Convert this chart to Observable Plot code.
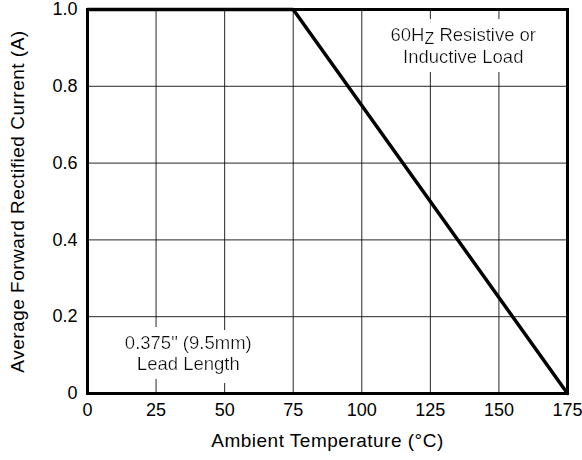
<!DOCTYPE html>
<html>
<head>
<meta charset="utf-8">
<script src="https://cdn.jsdelivr.net/npm/d3@7"></script>
<script src="https://cdn.jsdelivr.net/npm/@observablehq/plot@0.6"></script>
<style>
  html, body { margin: 0; padding: 0; background: #fff; }
  svg { display: block; }
</style>
</head>
<body>
<div id="chart"></div>
<script>
// Derating curve: ambient temperature (°C) vs average forward rectified current (A)
const temperature = [0, 75, 175];
const current = [1.0, 1.0, 0];

const xTicks = [0, 25, 50, 75, 100, 125, 150, 175];
const yTicks = [0, 0.2, 0.4, 0.6, 0.8, 1.0];
const yTickLabels = ["0", "0.2", "0.4", "0.6", "0.8", "1.0"];

const noteTexts = ["60Hz Resistive or\nInductive Load", "0.375\" (9.5mm)\nLead Length"];
const noteX = [137, 36.75];
const noteY = [0.907, 0.107];

const curve = temperature.map((t, i) => ({t, a: current[i]}));
const notes = noteTexts.map((text, i) => ({text, x: noteX[i], y: noteY[i]}));

const chart = Plot.plot({
  width: 582,
  height: 460,
  marginLeft: 87,
  marginRight: 15,
  marginTop: 9,
  marginBottom: 67,
  style: {fontFamily: "'Liberation Sans', Arial, sans-serif", fontSize: "18px", color: "#000", background: "#fff"},
  x: {domain: [0, 175]},
  y: {domain: [0, 1]},
  marks: [
    Plot.gridX(xTicks, {stroke: "#000", strokeOpacity: 0.85, strokeWidth: 1}),
    Plot.gridY(yTicks, {stroke: "#000", strokeOpacity: 0.85, strokeWidth: 1}),
    Plot.text(notes, {x: "x", y: "y", text: "text", fill: "#111", lineHeight: 1.17, fontSize: 18.5, className: "note"}),
    Plot.axisX({ticks: xTicks, tickSize: 0, tickPadding: 10, fontSize: 18, label: "Ambient Temperature (°C)", labelAnchor: "center", labelArrow: "none", labelOffset: 53}),
    Plot.axisY({ticks: yTicks, tickSize: 0, tickPadding: 10, fontSize: 18, tickFormat: (d) => yTickLabels[yTicks.indexOf(d)], label: "Average Forward Rectified Current (A)", labelAnchor: "center", labelArrow: "none", labelOffset: 77}),
    Plot.frame({stroke: "#000", strokeWidth: 3}),
    Plot.line(curve, {x: "t", y: "a", stroke: "#000", strokeWidth: 3.5, strokeLinejoin: "miter"})
  ]
});

document.getElementById("chart").appendChild(chart);

// White knock-out behind the notes (grid lines are interrupted around them)
const svg = d3.select(chart);
const defs = svg.insert("defs", ":first-child");
const f = defs.append("filter").attr("id", "knockout")
  .attr("x", "-15%").attr("y", "-20%").attr("width", "130%").attr("height", "140%");
f.append("feMorphology").attr("in", "SourceAlpha").attr("operator", "dilate").attr("radius", "8 9").attr("result", "d");
f.append("feFlood").attr("flood-color", "white").attr("result", "w");
f.append("feComposite").attr("in", "w").attr("in2", "d").attr("operator", "in").attr("result", "bg");
const m = f.append("feMerge");
m.append("feMergeNode").attr("in", "bg");
m.append("feMergeNode").attr("in", "SourceGraphic");
svg.selectAll("g.note").attr("filter", "url(#knockout)");

// Axis titles: slightly larger lettering as in the reference
svg.selectAll("g[aria-label='x-axis label'] text, g[aria-label='y-axis label'] text")
  .attr("font-size", 19).style("letter-spacing", "0.5px");

// Render "Hz" with a lowered small Z, as in the reference
svg.selectAll(".note tspan").each(function() {
  const el = d3.select(this);
  if (el.text() === "60Hz Resistive or") {
    el.text("60H");
    el.append("tspan").attr("dy", 3).attr("font-size", 16).text("Z");
    el.append("tspan").attr("dy", -3).text(" Resistive or");
  }
});
</script>
</body>
</html>
